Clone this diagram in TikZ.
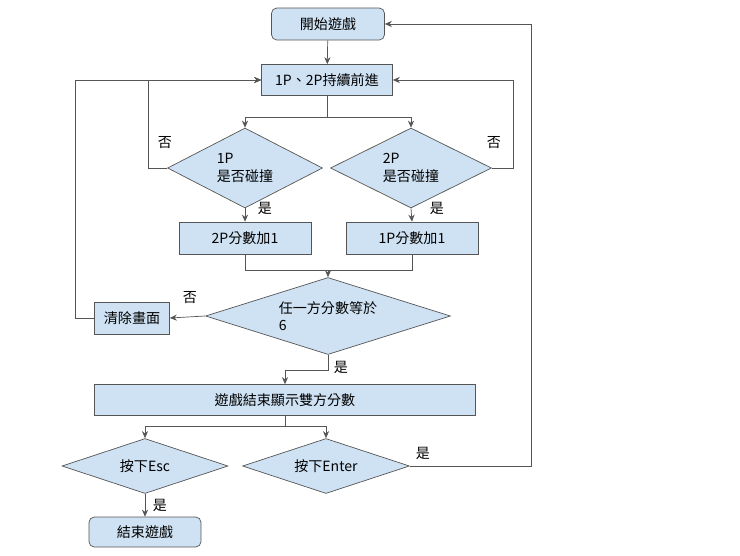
\documentclass[tikz,border=0pt]{standalone}
\usepackage{fontspec}
\setmainfont{Noto Sans CJK TC}
\usetikzlibrary{shapes.geometric,arrows.meta}
\definecolor{boxblue}{HTML}{CFE2F3}
\definecolor{edge}{HTML}{555555}
\tikzset{
  box/.style = {draw=edge, fill=boxblue, shape=rectangle, inner sep=0pt},
  rbox/.style = {box, rounded corners=3pt},
  dia/.style = {draw=edge, fill=boxblue, shape=diamond, inner sep=0pt, aspect=2.5},
  arr/.style = {-{Stealth[length=4pt,width=3.5pt]}, thin},
  lbl/.style = {font=\fontsize{8}{10}\selectfont}
}
\begin{document}
\begin{tikzpicture}[x=0.02cm, y=-0.02cm, font=\fontsize{8}{10}\selectfont, thin]
\useasboundingbox (0,0) rectangle (740,555);
\node[rbox, minimum width=2.26cm, minimum height=0.64cm] (start) at (328,24) {開始遊戲};
\node[box, minimum width=2.62cm, minimum height=0.62cm] (move) at (327,80) {1P、2P持續前進};
\node[dia, minimum width=3.1cm, minimum height=1.6cm, align=left] (hit1) at (245,168) {1P\\是否碰撞};
\node[dia, minimum width=3.22cm, minimum height=1.6cm, align=left] (hit2) at (411,168) {2P\\是否碰撞};
\node[box, minimum width=2.64cm, minimum height=0.64cm] (add2) at (245,238) {2P分數加1};
\node[box, minimum width=2.64cm, minimum height=0.64cm] (add1) at (412,238) {1P分數加1};
\node[dia, minimum width=4.9cm, minimum height=1.54cm, align=left] (six) at (328,316) {任一方分數等於\\6};
\node[box, minimum width=1.5cm, minimum height=0.64cm] (clear) at (132,318) {清除畫面};
\node[box, minimum width=7.62cm, minimum height=0.62cm] (show) at (285,400) {遊戲結束顯示雙方分數};
\node[dia, minimum width=3.32cm, minimum height=1.1cm] (esc) at (145,466) {按下Esc};
\node[dia, minimum width=3.34cm, minimum height=1.1cm] (enter) at (326,466) {按下Enter};
\node[rbox, minimum width=2.24cm, minimum height=0.6cm] (stop) at (145,532) {結束遊戲};
% connectors
\draw[arr, edge] (start) -- (move);
\draw[arr, edge] (move.south) -- ++(0,21) -| (hit1.north);
\draw[arr, edge] (move.south) -- ++(0,21) -| (hit2.north);
\draw[arr, edge] (hit1.west) -- (148,168) |- (move.west);
\draw[arr, edge] (clear.west) -- (75,318) |- (move.west);
\draw[arr, edge] (hit2.east) -- (513,168) |- (move.east);
\draw[arr, edge] (hit1.south) -- (add2.north);
\draw[arr, edge] (hit2.south) -- (add1.north);
\draw[edge] (add2.south) |- (328,270);
\draw[edge] (add1.south) |- (328,270);
\draw[arr, edge] (328,270) -- (six.north);
\draw[arr, edge] (six.west) -- (clear.east);
\draw[arr, edge] (six.south) -- (328,370) -| (show.north);
\draw[arr, edge] (show.south) -- (285,426) -| (esc.north);
\draw[arr, edge] (show.south) -- (285,426) -| (enter.north);
\draw[arr, edge] (esc.south) -- (stop.north);
\draw[arr, edge] (enter.east) -- (531,466) |- (start.east);
% labels
\node[lbl] (no1) at (165,143) {否};
\node[lbl] (no2) at (494,143) {否};
\node[lbl] (yes1) at (265,208) {是};
\node[lbl] (yes2) at (437,208) {是};
\node[lbl] (no3) at (190,298) {否};
\node[lbl] (yes3) at (341,367) {是};
\node[lbl] (yes4) at (423,453) {是};
\node[lbl] (yes5) at (160,505) {是};
\end{tikzpicture}
\end{document}
